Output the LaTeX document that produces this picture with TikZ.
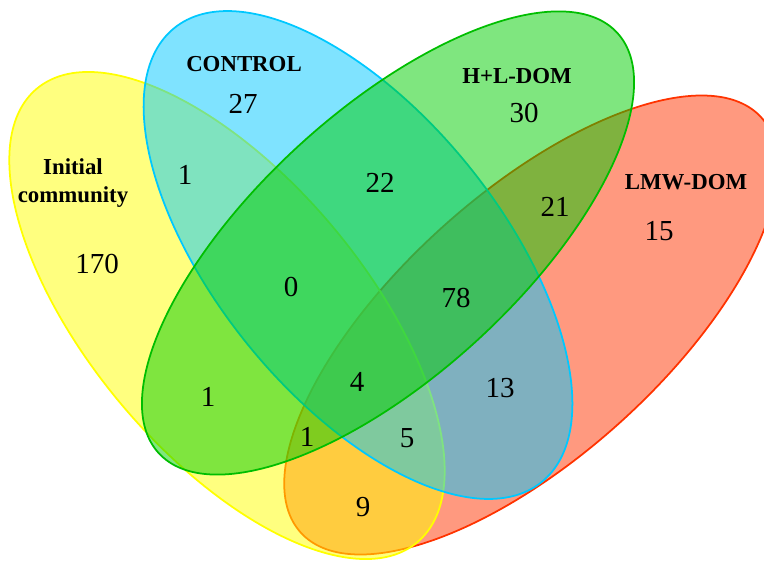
\documentclass[tikz,border=0pt]{standalone}
\usepackage{fontspec}
\setmainfont{Liberation Serif}
\usepackage{tikz}
\definecolor{yset}{RGB}{255,255,0}
\definecolor{bset}{RGB}{0,200,255}
\definecolor{gset}{RGB}{0,205,0}
\definecolor{gedge}{RGB}{0,190,0}
\definecolor{rset}{RGB}{255,51,0}
\begin{document}
\begin{tikzpicture}[line cap=round,line join=round,x=1.0cm,y=1.0cm,
  set/.style={line width=1pt,fill opacity=0.5},
  num/.style={font=\fontsize{16.5}{20}\selectfont},
  lab/.style={font=\bfseries\fontsize{13}{16}\selectfont,align=center}]
        \useasboundingbox (0,0) rectangle (15.28,11.22);
        \clip (0,0) rectangle (15.28,11.22);
        % the four sets, back to front
        \draw[set,draw=rset,fill=rset,rotate around={42:(10.62,4.72)}] (10.62,4.72) ellipse (6.20 and 2.64);
        \draw[set,draw=yset,fill=yset,rotate around={-50:(4.54,4.91)}] (4.54,4.91) ellipse (5.92 and 2.76);
        \draw[set,draw=bset,fill=bset,rotate around={-51:(7.16,6.12)}] (7.16,6.12) ellipse (5.84 and 2.84);
        \draw[set,draw=gedge,fill=gset,rotate around={42.5:(7.76,6.36)}] (7.76,6.36) ellipse (6.22 and 2.64);
        % set names
        \node[lab] (init) at (1.46,7.56) {Initial\\community};
        \node[lab] (ctrl) at (4.88,9.94) {CONTROL};
        \node[lab] (hl) at (10.34,9.70) {H+L-DOM};
        \node[lab] (lmw) at (13.72,7.58) {LMW-DOM};
        % counts
        \node[num] (n170) at (1.94,5.94) {170};
        \node[num] (n27) at (4.86,9.14) {27};
        \node[num] (n30) at (10.48,8.96) {30};
        \node[num] (n15) at (13.18,6.60) {15};
        \node[num] (nib) at (3.70,7.72) {1};
        \node[num] (n22) at (7.60,7.56) {22};
        \node[num] (n21) at (11.10,7.08) {21};
        \node[num] (n0) at (5.82,5.48) {0};
        \node[num] (n78) at (9.12,5.26) {78};
        \node[num] (nig) at (4.16,3.28) {1};
        \node[num] (n4) at (7.14,3.58) {4};
        \node[num] (n13) at (10.00,3.46) {13};
        \node[num] (nigr) at (6.14,2.48) {1};
        \node[num] (n5) at (8.14,2.46) {5};
        \node[num] (n9) at (7.26,1.08) {9};
      \end{tikzpicture}
\end{document}
